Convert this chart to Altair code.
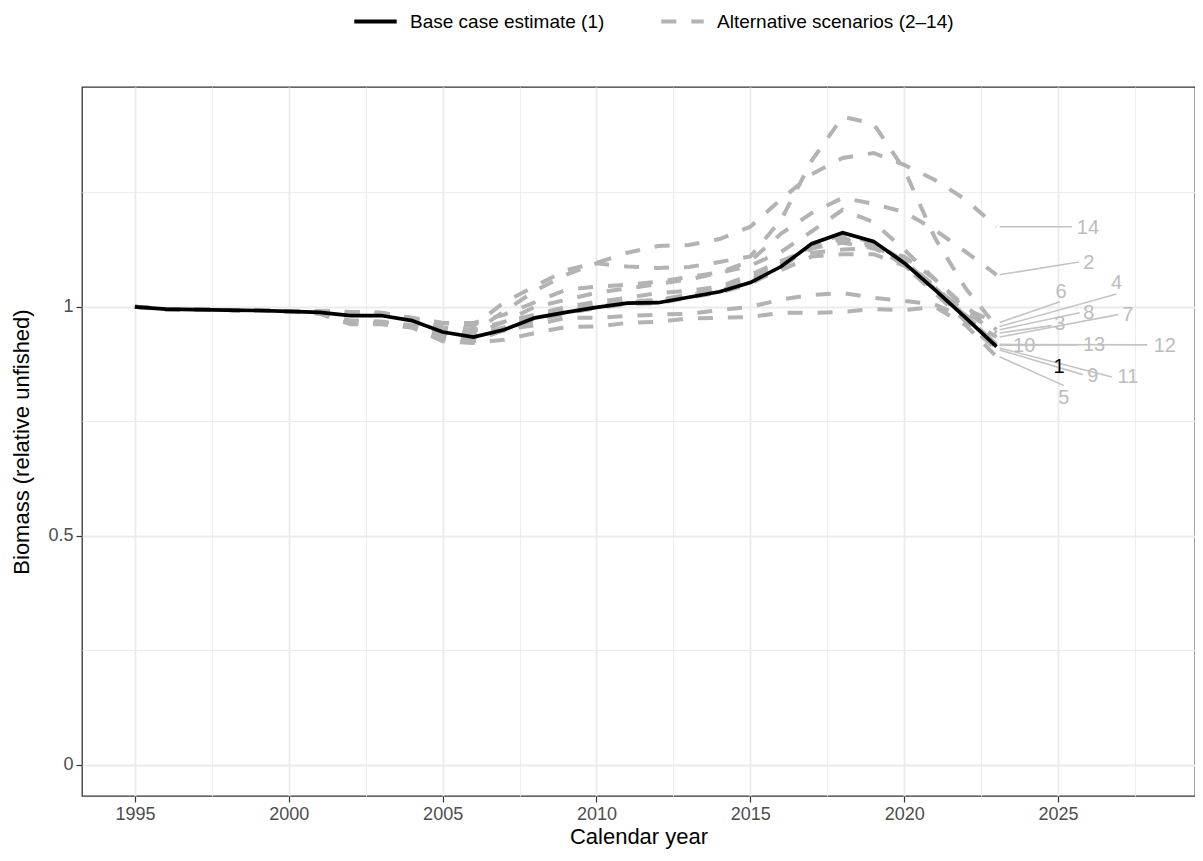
import altair as alt
import pandas as pd

# ---------------- data ----------------
years = list(range(1995, 2024))

base_case = [1.000, 0.995, 0.994, 0.993, 0.992, 0.990, 0.988, 0.981, 0.981, 0.970,
             0.945, 0.934, 0.950, 0.976, 0.988, 0.999, 1.008, 1.009, 1.021, 1.033,
             1.053, 1.088, 1.138, 1.162, 1.143, 1.096, 1.037, 0.976, 0.913]

s2 = [1.000, 0.995, 0.994, 0.993, 0.992, 0.990, 0.990, 0.988, 0.986, 0.975,
      0.965, 0.965, 0.983, 1.010, 1.037, 1.044, 1.048, 1.055, 1.065, 1.075,
      1.100, 1.160, 1.205, 1.238, 1.225, 1.207, 1.168, 1.120, 1.070]
s3 = [1.000, 0.995, 0.994, 0.993, 0.992, 0.990, 0.986, 0.963, 0.963, 0.957,
      0.935, 0.925, 0.950, 0.970, 0.985, 1.000, 1.010, 1.015, 1.025, 1.035,
      1.055, 1.080, 1.110, 1.115, 1.115, 1.090, 1.040, 0.990, 0.943]
s4 = [1.000, 0.995, 0.994, 0.993, 0.992, 0.990, 0.990, 0.988, 0.986, 0.975,
      0.955, 0.945, 0.990, 1.035, 1.070, 1.095, 1.088, 1.085, 1.087, 1.098,
      1.110, 1.190, 1.320, 1.415, 1.400, 1.300, 1.150, 1.040, 0.957]
s5 = [1.000, 0.995, 0.994, 0.993, 0.992, 0.990, 0.985, 0.962, 0.962, 0.955,
      0.925, 0.921, 0.928, 0.943, 0.956, 0.957, 0.965, 0.967, 0.975, 0.976,
      0.978, 0.987, 0.987, 0.989, 0.995, 0.993, 1.000, 0.960, 0.891]
s6 = [1.000, 0.995, 0.994, 0.993, 0.992, 0.990, 0.990, 0.989, 0.987, 0.976,
      0.955, 0.950, 0.967, 1.000, 1.015, 1.031, 1.040, 1.050, 1.060, 1.074,
      1.090, 1.120, 1.165, 1.212, 1.185, 1.125, 1.060, 0.995, 0.966]
s7 = [1.000, 0.995, 0.994, 0.993, 0.992, 0.990, 0.986, 0.964, 0.964, 0.955,
      0.930, 0.925, 0.950, 0.960, 0.976, 0.976, 0.980, 0.983, 0.985, 0.993,
      1.000, 1.016, 1.026, 1.030, 1.020, 1.013, 1.005, 0.975, 0.934]
s8 = [1.000, 0.995, 0.994, 0.993, 0.992, 0.990, 0.990, 0.988, 0.986, 0.975,
      0.950, 0.940, 0.967, 0.983, 1.000, 1.011, 1.020, 1.030, 1.035, 1.044,
      1.070, 1.100, 1.118, 1.125, 1.128, 1.110, 1.060, 1.000, 0.950]
s9 = [1.000, 0.995, 0.994, 0.993, 0.992, 0.990, 0.989, 0.984, 0.983, 0.972,
      0.945, 0.935, 0.952, 0.978, 0.992, 1.003, 1.010, 1.012, 1.023, 1.036,
      1.058, 1.095, 1.130, 1.150, 1.135, 1.090, 1.030, 0.968, 0.906]
s10 = [1.000, 0.995, 0.994, 0.993, 0.992, 0.990, 0.988, 0.982, 0.982, 0.971,
       0.940, 0.930, 0.948, 0.975, 0.987, 0.997, 1.006, 1.008, 1.020, 1.031,
       1.050, 1.085, 1.135, 1.158, 1.140, 1.100, 1.042, 0.980, 0.917]
s11 = [1.000, 0.995, 0.994, 0.993, 0.992, 0.990, 0.987, 0.970, 0.968, 0.960,
       0.945, 0.935, 0.952, 0.977, 0.990, 1.001, 1.009, 1.010, 1.022, 1.034,
       1.055, 1.090, 1.128, 1.148, 1.130, 1.092, 1.035, 0.972, 0.910]
s12 = [1.000, 0.995, 0.994, 0.993, 0.992, 0.990, 0.989, 0.985, 0.984, 0.973,
       0.948, 0.937, 0.955, 0.980, 0.993, 1.005, 1.012, 1.015, 1.027, 1.040,
       1.062, 1.100, 1.128, 1.140, 1.128, 1.100, 1.045, 0.982, 0.918]
s13 = [1.000, 0.995, 0.994, 0.993, 0.992, 0.990, 0.986, 0.966, 0.965, 0.958,
       0.943, 0.932, 0.950, 0.976, 0.989, 1.000, 1.008, 1.010, 1.022, 1.034,
       1.054, 1.090, 1.138, 1.160, 1.142, 1.098, 1.040, 0.979, 0.916]
s14 = [1.000, 0.995, 0.994, 0.993, 0.992, 0.990, 0.990, 0.989, 0.987, 0.976,
       0.965, 0.958, 1.010, 1.045, 1.080, 1.096, 1.118, 1.133, 1.135, 1.148,
       1.175, 1.235, 1.290, 1.325, 1.336, 1.310, 1.277, 1.234, 1.175]

scenarios = {1: base_case, 2: s2, 3: s3, 4: s4, 5: s5, 6: s6, 7: s7, 8: s8,
             9: s9, 10: s10, 11: s11, 12: s12, 13: s13, 14: s14}

# repel-style end labels (positions in data units)
label_ids = [1, 2, 3, 4, 5, 6, 7, 8, 9, 10, 11, 12, 13, 14]
label_year = [2025.03, 2026.0, 2025.06, 2026.9, 2025.19, 2025.1, 2027.27,
              2026.0, 2026.13, 2023.9, 2027.27, 2028.47, 2026.17, 2025.97]
label_value = [0.869, 1.096, 0.963, 1.052, 0.801, 1.033, 0.983,
               0.987, 0.849, 0.915, 0.847, 0.915, 0.917, 1.172]
seg_ids = [2, 3, 4, 5, 6, 7, 8, 9, 10, 11, 12, 13, 14]
seg_end_year = [2025.68, 2024.8, 2026.9, 2025.19, 2025.06, 2026.95, 2025.7,
                2025.8, 2023.5, 2026.75, 2027.9, 2025.65, 2025.45]
seg_end_value = [1.098, 0.959, 1.028, 0.828, 1.011, 0.983, 0.987,
                 0.852, 0.917, 0.847, 0.917, 0.917, 1.175]
seg_start_year = 2023.1

x_ticks = [1995, 2000, 2005, 2010, 2015, 2020, 2025]
x_minor = [1997.5, 2002.5, 2007.5, 2012.5, 2017.5, 2022.5, 2027.5]
y_ticks = [0, 0.5, 1]
y_minor = [0.25, 0.75, 1.25]

BASE = "Base case estimate (1)"
ALT = "Alternative scenarios (2\u201314)"

# ---------------- tables ----------------
rows = []
for sid, vals in scenarios.items():
    for yr, v in zip(years, vals):
        rows.append({"year": yr, "value": v, "scenario": sid,
                     "type": BASE if sid == 1 else ALT})
df = pd.DataFrame(rows)

lab_df = pd.DataFrame({"id": label_ids, "year": label_year, "value": label_value,
                       "text": [str(i) for i in label_ids]})
seg_df = pd.DataFrame({"id": seg_ids, "x0": [seg_start_year] * len(seg_ids),
                       "y0": [scenarios[i][-1] for i in seg_ids],
                       "x1": seg_end_year, "y1": seg_end_value})

FONT = "Liberation Sans"
GREY = "#B3B3B3"
xdom = [1993.28, 2029.45]
ydom = [-0.068, 1.48]

xscale = alt.Scale(domain=xdom, nice=False, zero=False)
yscale = alt.Scale(domain=ydom, nice=False, zero=False)

common_legend = dict(title=None, orient="none", direction="horizontal", legendY=-89,
                     labelFontSize=19, labelFont=FONT, labelFontWeight="normal",
                     labelColor="#000000", symbolType="stroke", symbolSize=1800,
                     symbolStrokeWidth=3.8, labelOffset=11, labelLimit=400)
legend_base = alt.Legend(legendX=270, **common_legend)
legend_alt = alt.Legend(legendX=577, symbolStrokeColor=GREY, **common_legend)

major_x = alt.Axis(values=x_ticks, format="d", title="Calendar year", orient="bottom",
                   grid=True, gridColor="#EBEBEB", gridWidth=1.8,
                   domain=False, tickColor="#333333", tickSize=6, tickWidth=1.2,
                   labelColor="#4D4D4D", labelFontSize=18, labelFont=FONT,
                   labelPadding=3, titleFontSize=22, titleFont=FONT,
                   titleFontWeight="normal", titleColor="#000000", titlePadding=3)
major_y = alt.Axis(values=y_ticks, title="Biomass (relative unfished)", orient="left",
                   labelExpr="datum.value == 0.5 ? '0.5' : format(datum.value, 'd')",
                   grid=True, gridColor="#EBEBEB", gridWidth=1.8,
                   domain=False, tickColor="#333333", tickSize=6, tickWidth=1.2,
                   labelColor="#4D4D4D", labelFontSize=18, labelFont=FONT,
                   labelPadding=3, titleFontSize=22, titleFont=FONT,
                   titleFontWeight="normal", titleColor="#000000", titlePadding=14)
minor_x = alt.Axis(values=x_minor, grid=True, gridColor="#EBEBEB", gridWidth=0.9,
                   orient="bottom", labels=False, ticks=False, domain=False, title=None)
minor_y = alt.Axis(values=y_minor, grid=True, gridColor="#EBEBEB", gridWidth=0.9,
                   orient="left", labels=False, ticks=False, domain=False, title=None)

alt_df = df[df["scenario"] != 1]
base_df = df[df["scenario"] == 1]

minor_layer = alt.Chart(base_df).mark_line(opacity=0).encode(
    x=alt.X("year:Q", scale=xscale, axis=minor_x),
    y=alt.Y("value:Q", scale=yscale, axis=minor_y),
)

alt_lines = alt.Chart(alt_df).mark_line(strokeWidth=4, strokeCap="butt").encode(
    x=alt.X("year:Q", scale=xscale, axis=major_x),
    y=alt.Y("value:Q", scale=yscale, axis=major_y),
    color=alt.value(GREY),
    strokeDash=alt.StrokeDash("type:N",
                              scale=alt.Scale(domain=[ALT], range=[[15, 15]]),
                              legend=legend_alt),
    detail="scenario:N",
)

base_line = alt.Chart(base_df).mark_line(strokeWidth=3.7).encode(
    x=alt.X("year:Q", scale=xscale, axis=None),
    y=alt.Y("value:Q", scale=yscale, axis=None),
    color=alt.Color("type:N", scale=alt.Scale(domain=[BASE], range=["#000000"]),
                    legend=legend_base),
)

segs = alt.Chart(seg_df).mark_rule(color="#C4C4C4", strokeWidth=1.6).encode(
    x=alt.X("x0:Q", scale=xscale, axis=None),
    y=alt.Y("y0:Q", scale=yscale, axis=None),
    x2="x1:Q", y2="y1:Q",
)

labels = alt.Chart(lab_df).mark_text(fontSize=20, font=FONT, align="center",
                                     baseline="middle").encode(
    x=alt.X("year:Q", scale=xscale, axis=None),
    y=alt.Y("value:Q", scale=yscale, axis=None),
    text="text:N",
    color=alt.condition("datum.id == 1", alt.value("#000000"), alt.value("#BDBDBD")),
)

chart = alt.layer(minor_layer, alt_lines, base_line, segs, labels).resolve_axis(
    x="independent", y="independent"
).properties(
    width=1113, height=709,
    autosize=alt.AutoSizeParams(type="none"),
    padding={"left": 74, "top": 79, "right": 0, "bottom": 57},
).configure_view(stroke="#333333", strokeWidth=1.3)

chart.save("out.html", embed_options={"renderer": "svg", "actions": False})
